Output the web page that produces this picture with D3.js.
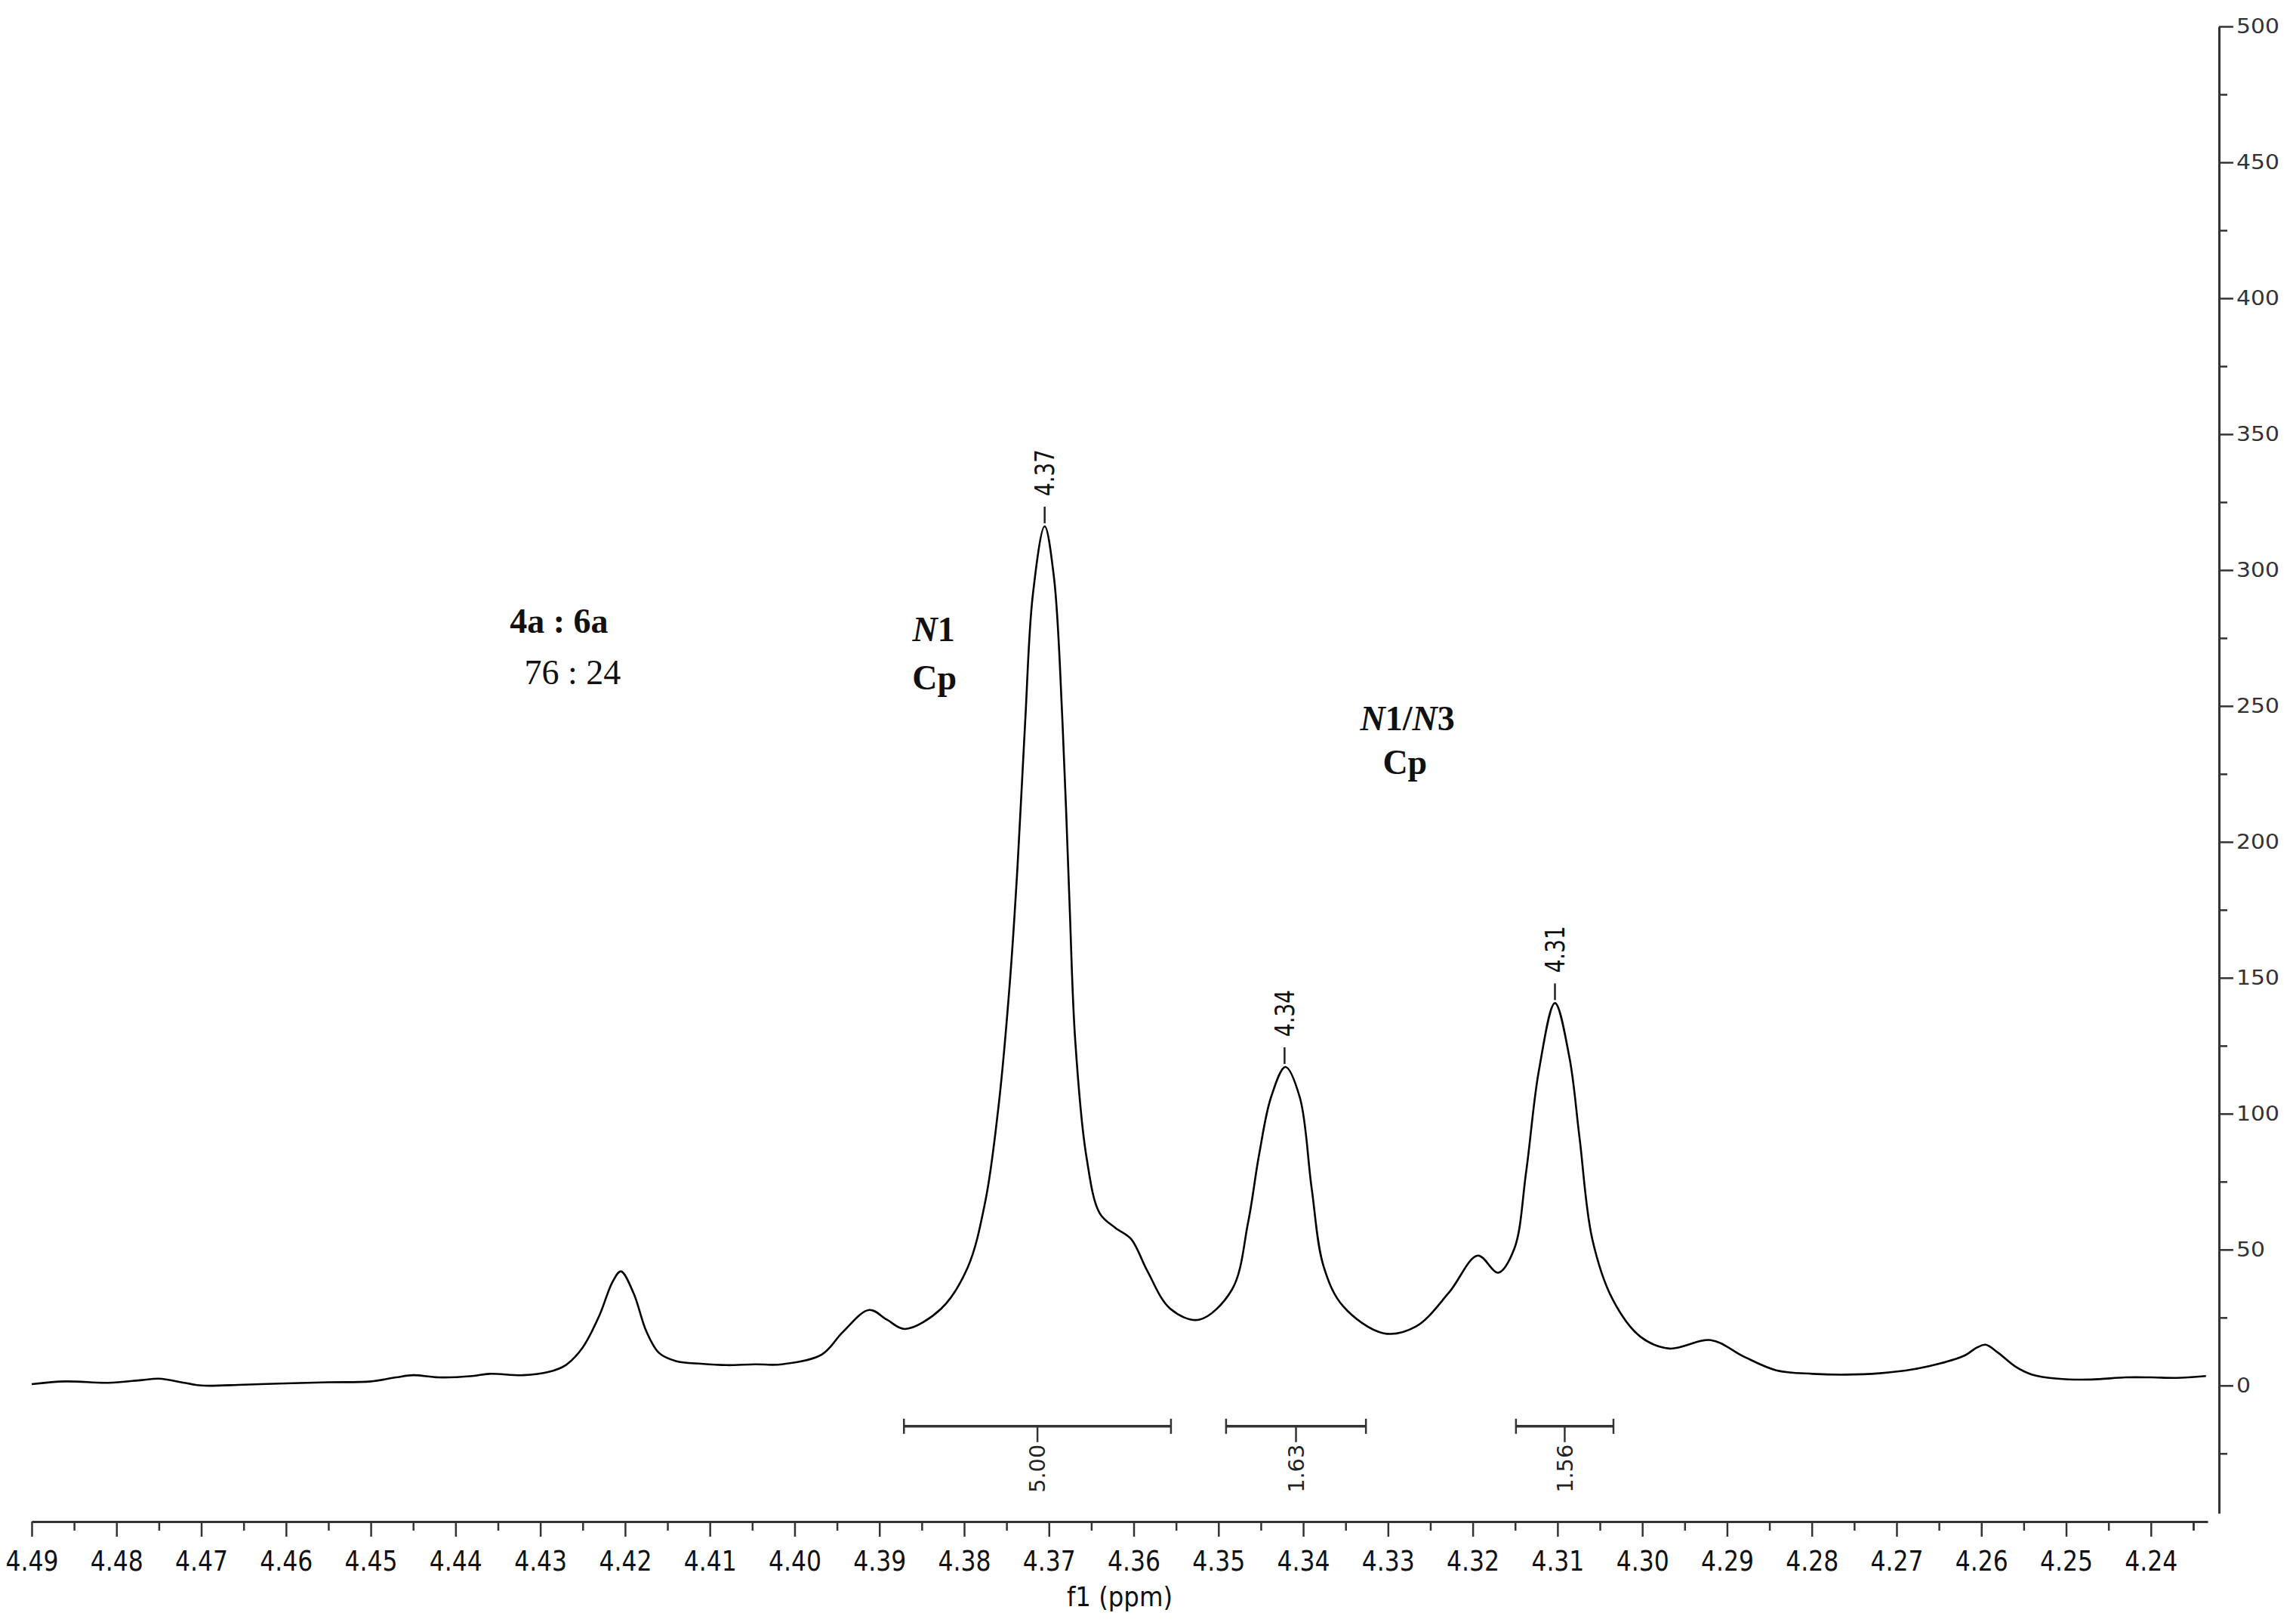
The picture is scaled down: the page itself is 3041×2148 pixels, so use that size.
<!DOCTYPE html>
<html>
<head>
<meta charset="utf-8">
<script src="https://cdn.jsdelivr.net/npm/d3@7"></script>
<style>
  html, body { margin: 0; padding: 0; background: #fff; }
  svg { display: block; }
</style>
</head>
<body>
<div id="chart"></div>
<script>
// 1H NMR trace: chemical shift (ppm) and intensity
const shifts = [
  4.4900, 4.4860, 4.4810, 4.4770, 4.4750, 4.4720, 4.4700, 4.4650, 4.4600, 4.4550,
  4.4500, 4.4470, 4.4450, 4.4420, 4.4380, 4.4360, 4.4320, 4.4290, 4.4270, 4.4250,
  4.4230, 4.4215, 4.4205, 4.4190, 4.4175, 4.4160, 4.4140, 4.4110, 4.4080, 4.4047,
  4.4015, 4.3968, 4.3943, 4.3912, 4.3891, 4.3870, 4.3827, 4.3796, 4.3775, 4.3759,
  4.3746, 4.3737, 4.3728, 4.3719, 4.3705, 4.3694, 4.3684, 4.3676, 4.3669, 4.3656,
  4.3640, 4.3622, 4.3603, 4.3584, 4.3557, 4.3523, 4.3484, 4.3465, 4.3452, 4.3438,
  4.3421, 4.3404, 4.3390, 4.3376, 4.3353, 4.3305, 4.3267, 4.3228, 4.3194, 4.3170,
  4.3151, 4.3137, 4.3122, 4.3103, 4.3086, 4.3074, 4.3059, 4.3035, 4.3002, 4.2968,
  4.2919, 4.2880, 4.2842, 4.2799, 4.2760, 4.2720, 4.2680, 4.2650, 4.2620, 4.2605,
  4.2595, 4.2580, 4.2560, 4.2540, 4.2510, 4.2470, 4.2430, 4.2400, 4.2370, 4.2335
];
const intensities = [
  0.5, 1.5, 1.0, 2.0, 2.5, 1.0, 0.0, 0.3, 0.8, 1.2,
  1.5, 3.0, 3.8, 3.0, 3.5, 4.3, 3.8, 5.0, 7.5, 14.0,
  26.0, 38.0, 42.0, 34.0, 20.0, 12.0, 9.0, 8.0, 7.5, 7.8,
  7.8, 11.4, 19.7, 27.8, 24.2, 20.8, 28.3, 43.3, 67.8, 103.9,
  148.6, 191.1, 244.2, 290.8, 316.1, 297.2, 244.2, 180.3, 127.2, 84.7,
  63.3, 58.1, 53.9, 42.2, 28.3, 24.2, 35.3, 60.0, 85.0, 106.0,
  117.2, 106.0, 72.5, 43.9, 29.2, 19.2, 21.7, 34.2, 47.8, 41.5,
  50.3, 78.6, 115.8, 140.7, 120.8, 91.1, 53.9, 31.7, 17.9, 13.6,
  16.7, 10.6, 5.6, 4.3, 4.0, 4.5, 6.0, 8.0, 11.0, 14.0,
  15.0, 12.0, 7.0, 4.0, 2.5, 2.2, 3.0, 3.0, 2.8, 3.5
];

// picked peaks
const peakShifts = [4.3705, 4.3422, 4.3103];
const peakHeights = [316.1, 117.2, 140.7];
const peakLabels = ['4.37', '4.34', '4.31'];

// integration regions
const integralFrom = [4.3871, 4.3491, 4.3149];
const integralTo = [4.3556, 4.3326, 4.3034];
const integralLabels = ['5.00', '1.63', '1.56'];

// axis ticks
const xTicks = [4.49, 4.48, 4.47, 4.46, 4.45, 4.44, 4.43, 4.42, 4.41, 4.40, 4.39, 4.38, 4.37,
  4.36, 4.35, 4.34, 4.33, 4.32, 4.31, 4.30, 4.29, 4.28, 4.27, 4.26, 4.25, 4.24];
const yTicks = [0, 50, 100, 150, 200, 250, 300, 350, 400, 450, 500];

// text notes on the plot (ppm, intensity of the baseline)
const noteShifts = [4.4278, 4.4262, 4.3836, 4.3835, 4.3277, 4.3280];
const noteHeights = [277, 258, 274, 256, 241, 225];
const noteTexts = [
  [['4a : 6a', false]],
  [['76 : 24', false]],
  [['N', true], ['1', false]],
  [['Cp', false]],
  [['N', true], ['1/', false], ['N', true], ['3', false]],
  [['Cp', false]]
];
const noteBold = [true, false, true, true, true, true];

const W = 3041, H = 2148;
const axisColor = '#333';
const tickFont = 'DejaVu Sans Condensed, DejaVu Sans, sans-serif';

const x = d3.scaleLinear().domain([4.49, 4.2333]).range([42, 2924]);
const y = d3.scaleLinear().domain([-47, 500]).range([2004, 35]);

const svg = d3.select('#chart').append('svg')
    .attr('width', W)
    .attr('height', H);

// x axis (ppm, reversed)
const xAxisY = 2015;
const gx = svg.append('g')
    .attr('transform', `translate(0,${xAxisY})`)
    .call(d3.axisBottom(x).tickValues(xTicks).tickSize(20).tickSizeOuter(0)
      .tickPadding(19).tickFormat(d3.format('.2f')));
svg.append('g')
    .attr('transform', `translate(0,${xAxisY})`)
    .call(d3.axisBottom(x).tickValues(xTicks.map(d => d - 0.005).concat([4.235]))
      .tickSize(12).tickFormat(''))
    .call(g => g.select('.domain').remove());

// y axis on the right
const yAxisX = 2939;
const gy = svg.append('g')
    .attr('transform', `translate(${yAxisX},0)`)
    .call(d3.axisRight(y).tickValues(yTicks).tickSize(19).tickSizeOuter(0).tickPadding(4));
svg.append('g')
    .attr('transform', `translate(${yAxisX},0)`)
    .call(d3.axisRight(y).tickValues(yTicks.map(d => d - 25)).tickSize(11).tickFormat(''))
    .call(g => g.select('.domain').remove());

svg.selectAll('.domain').attr('stroke', axisColor).attr('stroke-width', 3);
svg.selectAll('.tick line').attr('stroke', axisColor).attr('stroke-width', 2.5);

gx.selectAll('text')
    .attr('font-family', tickFont)
    .attr('font-size', 37)
    .attr('textLength', 70)
    .attr('lengthAdjust', 'spacingAndGlyphs')
    .attr('fill', '#111');
gy.selectAll('text')
    .attr('font-family', 'DejaVu Sans, Verdana, sans-serif')
    .attr('font-size', 27)
    .attr('fill', '#333')
    .attr('textLength', d => String(d).length * 19)
    .attr('lengthAdjust', 'spacingAndGlyphs');

svg.append('text')
    .attr('x', (x.range()[0] + x.range()[1]) / 2)
    .attr('y', 2127)
    .attr('text-anchor', 'middle')
    .attr('font-family', tickFont)
    .attr('font-size', 36)
    .attr('fill', '#111')
    .text('f1 (ppm)');

// spectrum trace
const points = shifts.map((s, i) => [s, intensities[i]]);
const line = d3.line()
    .x(d => x(d[0]))
    .y(d => y(d[1]))
    .curve(d3.curveCatmullRom.alpha(0.5));

svg.append('path')
    .datum(points)
    .attr('fill', 'none')
    .attr('stroke', '#000')
    .attr('stroke-width', 2.6)
    .attr('stroke-linejoin', 'round')
    .attr('d', line);

// peak picks
const peaks = svg.append('g').selectAll('g')
    .data(peakShifts.map((s, i) => ({s, h: peakHeights[i], label: peakLabels[i]})))
  .join('g');

peaks.append('line')
    .attr('x1', d => x(d.s))
    .attr('x2', d => x(d.s))
    .attr('y1', d => y(d.h) - 4)
    .attr('y2', d => y(d.h) - 26)
    .attr('stroke', '#222')
    .attr('stroke-width', 2.5);

peaks.append('text')
    .attr('transform', d => `translate(${x(d.s)},${y(d.h) - 40}) rotate(-90)`)
    .attr('dy', '0.36em')
    .attr('font-family', tickFont)
    .attr('font-size', 35)
    .attr('textLength', 62)
    .attr('lengthAdjust', 'spacingAndGlyphs')
    .attr('fill', '#111')
    .text(d => d.label);

// integrals
const barY = y(-15);
const integrals = svg.append('g').selectAll('g')
    .data(integralFrom.map((f, i) => ({f, t: integralTo[i], label: integralLabels[i]})))
  .join('g')
    .attr('stroke', axisColor);

integrals.append('line')
    .attr('x1', d => x(d.f)).attr('x2', d => x(d.t))
    .attr('y1', barY).attr('y2', barY)
    .attr('stroke-width', 3.5);
integrals.append('line')
    .attr('x1', d => x(d.f)).attr('x2', d => x(d.f))
    .attr('y1', barY - 10).attr('y2', barY + 10)
    .attr('stroke-width', 2.5);
integrals.append('line')
    .attr('x1', d => x(d.t)).attr('x2', d => x(d.t))
    .attr('y1', barY - 10).attr('y2', barY + 10)
    .attr('stroke-width', 2.5);
integrals.append('line')
    .attr('x1', d => x((d.f + d.t) / 2)).attr('x2', d => x((d.f + d.t) / 2))
    .attr('y1', barY).attr('y2', barY + 21)
    .attr('stroke-width', 2.5);
integrals.append('text')
    .attr('transform', d => `translate(${x((d.f + d.t) / 2)},${barY + 24}) rotate(-90)`)
    .attr('dy', '0.36em')
    .attr('text-anchor', 'end')
    .attr('stroke', 'none')
    .attr('fill', '#222')
    .attr('font-family', 'DejaVu Sans, Verdana, sans-serif')
    .attr('font-size', 28)
    .attr('textLength', 64)
    .attr('lengthAdjust', 'spacingAndGlyphs')
    .text(d => d.label);

// annotations
const notes = svg.append('g').selectAll('text')
    .data(noteShifts.map((s, i) => ({s, h: noteHeights[i], parts: noteTexts[i], bold: noteBold[i]})))
  .join('text')
    .attr('x', d => x(d.s))
    .attr('y', d => y(d.h))
    .attr('text-anchor', 'middle')
    .attr('font-family', 'Liberation Serif, Times New Roman, serif')
    .attr('font-size', 46)
    .attr('font-weight', d => d.bold ? 'bold' : 'normal')
    .attr('fill', '#111');

notes.selectAll('tspan')
    .data(d => d.parts)
  .join('tspan')
    .attr('font-style', p => p[1] ? 'italic' : 'normal')
    .text(p => p[0]);
</script>
</body>
</html>
